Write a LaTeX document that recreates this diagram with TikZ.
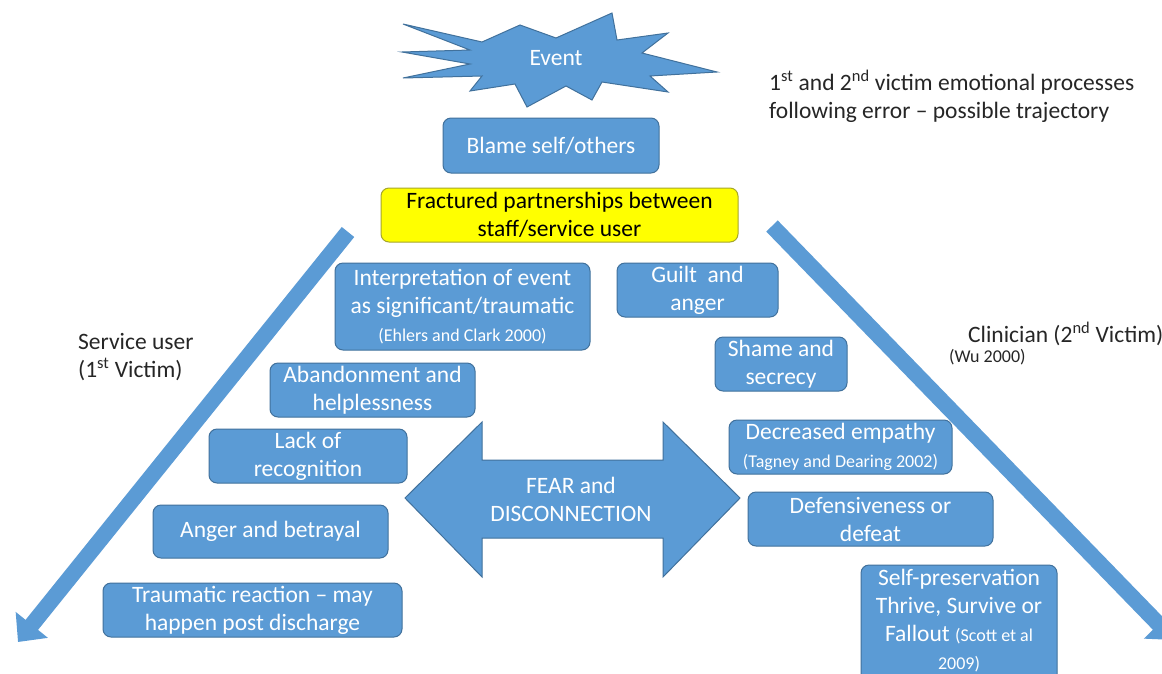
\documentclass[tikz,border=0pt]{standalone}
\usepackage{fontspec}
\setmainfont{Carlito}
\usetikzlibrary{arrows.meta}
\definecolor{boxblue}{HTML}{5B9BD5}
\definecolor{boxedge}{HTML}{41719C}
\definecolor{ybox}{HTML}{FFFF00}
\definecolor{yedge}{HTML}{A6A62A}
\definecolor{ink}{HTML}{262626}
\newcommand{\cit}[1]{{\fontsize{18}{21}\selectfont #1}}
\begin{document}
\begin{tikzpicture}[x=1pt,y=-1pt,
  mainfont/.style={font=\fontsize{23.5}{28}\selectfont},
  bluebox/.style={draw=boxedge, fill=boxblue, line width=1pt, rounded corners=8pt,
    text=white, align=center, inner sep=0pt, mainfont},
  yellowbox/.style={draw=yedge, fill=ybox, line width=1pt, rounded corners=8pt,
    text=black, align=center, inner sep=0pt, mainfont},
  plain/.style={text=ink, inner sep=0pt, mainfont},
  bigarrow/.style={draw=boxblue, line width=16pt, -{Triangle[width=40pt,length=22pt]}},
  shapefill/.style={draw=boxedge, fill=boxblue, line width=1pt, line join=miter}
]
\useasboundingbox (0,0) rectangle (1162,673);
\clip (0,0) rectangle (1162,673);
\fill[white] (0,0) rectangle (1162,673);

% Event explosion
\draw[shapefill] (403,24) -- (482,42) -- (520,25) -- (556,38) -- (612,13) -- (617,40)
  -- (668,33) -- (642,53) -- (717,72) -- (650,76) -- (668,92) -- (602,82)
  -- (592,100) -- (566,86) -- (527,107) -- (515,84) -- (470,91) -- (482,76)
  -- (403,78) -- (470,64) -- (402,52) -- (470,50) -- cycle;
\node[plain, text=white] (event) at (556,58) {Event};

% Title
\node[plain, anchor=north west, align=left] (title) at (769,70)
  {1\textsuperscript{st} and 2\textsuperscript{nd} victim emotional processes\\
   following error -- possible trajectory};

% Top boxes
\node[bluebox, minimum width=216pt, minimum height=55pt] (blame) at (551,145.5) {Blame self/others};
\node[yellowbox, minimum width=357pt, minimum height=54pt] (frac) at (559.5,215)
  {Fractured partnerships between\\staff/service user};

% Side arrows
\coordinate (ltop) at (348,232);
\coordinate (ltip) at (18,642);
\coordinate (rtop) at (772,226);
\coordinate (rtip) at (1174,640);
\draw[bigarrow] (ltop) -- (ltip);
\draw[bigarrow] (rtop) -- (rtip);

% Side labels
\node[plain, anchor=north west, align=left] (suser) at (78,333)
  {Service user\\(1\textsuperscript{st} Victim)};
\node[plain, anchor=west] (clin) at (968,334) {Clinician (2\textsuperscript{nd} Victim)};
\node[plain, anchor=west, font=\fontsize{18}{21}\selectfont] (wu) at (949,357) {(Wu 2000)};

% Left column boxes (1st victim)
\node[bluebox, minimum width=255pt, minimum height=87pt] (interp) at (462.5,306.5)
  {Interpretation of event\\as significant/traumatic\\\cit{(Ehlers and Clark 2000)}};
\node[bluebox, minimum width=205pt, minimum height=54pt] (aband) at (372.5,390)
  {Abandonment and\\helplessness};
\node[bluebox, minimum width=198pt, minimum height=54pt] (lack) at (308,456)
  {Lack of\\recognition};
\node[bluebox, minimum width=235pt, minimum height=53pt] (anger) at (270.5,531.5)
  {Anger and betrayal};
\node[bluebox, minimum width=299pt, minimum height=54pt] (trauma) at (252.5,610)
  {Traumatic reaction -- may\\happen post discharge};

% Right column boxes (2nd victim)
\node[bluebox, minimum width=161pt, minimum height=54pt] (guilt) at (697.5,290)
  {Guilt\ \ and\\anger};
\node[bluebox, minimum width=132pt, minimum height=54pt] (shame) at (781,364)
  {Shame and\\secrecy};
\node[bluebox, minimum width=223pt, minimum height=54pt] (empathy) at (840.5,447)
  {Decreased empathy\\\cit{(Tagney and Dearing 2002)}};
\node[bluebox, minimum width=245pt, minimum height=54pt] (defens) at (870.5,519)
  {Defensiveness or\\defeat};
\node[bluebox, minimum width=196pt, minimum height=125pt] (selfp) at (959,627.5) {};
\node[plain, text=white, align=center, anchor=north] (selfpt) at (959,569)
  {Self-preservation\\Thrive, Survive or\\Fallout \cit{(Scott et al}\\\cit{2009)}};

% Double arrow
\coordinate (dl) at (405,498);
\coordinate (dr) at (740,498);
\draw[shapefill] (dl) -- (482,422) -- (482,460) -- (663,460) -- (663,422) -- (dr)
  -- (663,577) -- (663,538) -- (482,538) -- (482,577) -- cycle;
\node[plain, text=white, align=center] (fear) at (571,499) {FEAR and\\DISCONNECTION};
\end{tikzpicture}
\end{document}
